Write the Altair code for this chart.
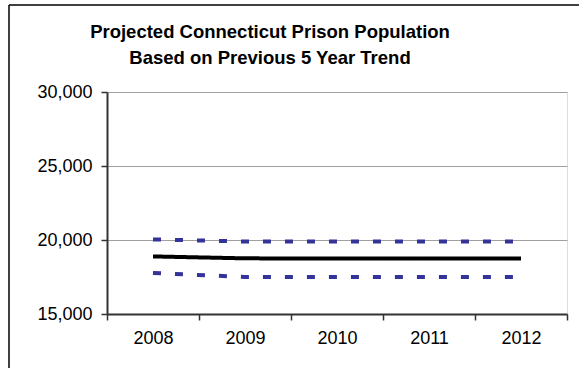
import altair as alt
import pandas as pd

years = ["2008", "2009", "2010", "2011", "2012"]
projected = [18890, 18760, 18750, 18750, 18750]
upper = [20040, 19900, 19900, 19900, 19900]
lower = [17770, 17500, 17500, 17500, 17500]
title_lines = ["Projected Connecticut Prison Population", "Based on Previous 5 Year Trend"]

rows = []
for name, vals in [("Upper", upper), ("Lower", lower), ("Projected", projected)]:
    for y, v in zip(years, vals):
        rows.append({"year": y, "value": v, "series": name})
df = pd.DataFrame(rows)

FONT = "Liberation Sans"

x_enc = alt.X("year:O", sort=years,
              scale=alt.Scale(paddingInner=0, paddingOuter=0),
              axis=alt.Axis(title=None, labelAngle=0, tickBand="extent", grid=False,
                            labelFontSize=18, labelFont=FONT, labelColor="#000",
                            labelPadding=9, tickSize=6, tickColor="#333",
                            domainColor="#333", domainWidth=2, tickWidth=1.5))
y_enc = alt.Y("value:Q", scale=alt.Scale(domain=[15000, 30000], nice=False, zero=False),
              axis=alt.Axis(title=None, values=[15000, 20000, 25000, 30000], format=",.0f",
                            labelFontSize=18, labelFont=FONT, labelColor="#000",
                            labelPadding=9, tickSize=6, tickColor="#333",
                            domainColor="#333", domainWidth=2, tickWidth=1.5,
                            gridColor="#a0a0a0", gridWidth=1))

lines = alt.Chart(df).mark_line(strokeCap="butt").encode(
    x=x_enc,
    y=y_enc,
    color=alt.Color("series:N", legend=None,
                    scale=alt.Scale(domain=["Upper", "Lower", "Projected"],
                                    range=["#333399", "#333399", "#000000"])),
    strokeDash=alt.StrokeDash("series:N", legend=None,
                              scale=alt.Scale(domain=["Upper", "Lower", "Projected"],
                                              range=[[8, 14], [8, 14], [1, 0]])),
    strokeWidth=alt.StrokeWidth("series:N", legend=None,
                                scale=alt.Scale(domain=["Upper", "Lower", "Projected"],
                                                range=[4, 4, 3.5])),
    detail="series:N",
)

tdf = pd.DataFrame({"line": title_lines, "i": [0, 1]})
title1 = alt.Chart(tdf).transform_filter("datum.i == 0").mark_text(
    font=FONT, fontSize=18.5, fontWeight="bold", color="#000", align="center",
    baseline="alphabetic").encode(text="line:N", x=alt.value(163), y=alt.value(-54))
title2 = alt.Chart(tdf).transform_filter("datum.i == 1").mark_text(
    font=FONT, fontSize=18.5, fontWeight="bold", color="#000", align="center",
    baseline="alphabetic").encode(text="line:N", x=alt.value(163), y=alt.value(-28))

border_left = alt.Chart(tdf).transform_filter("datum.i == 0").mark_rule(
    color="#000", strokeWidth=1.5).encode(
    x=alt.value(-98), y=alt.value(-87), y2=alt.value(400))
border_top = alt.Chart(tdf).transform_filter("datum.i == 0").mark_rule(
    color="#000", strokeWidth=1.5).encode(
    x=alt.value(-98), x2=alt.value(600), y=alt.value(-87))

chart = alt.layer(border_left, border_top, lines, title1, title2).properties(
    width=460, height=222,
    padding={"left": 107, "top": 92, "right": 12, "bottom": 54},
    autosize=alt.AutoSizeParams(type="none"),
).configure_view(stroke="#a0a0a0", strokeWidth=1).configure(background="white")

chart.save("out.html", embed_options={"renderer": "svg", "actions": False})
